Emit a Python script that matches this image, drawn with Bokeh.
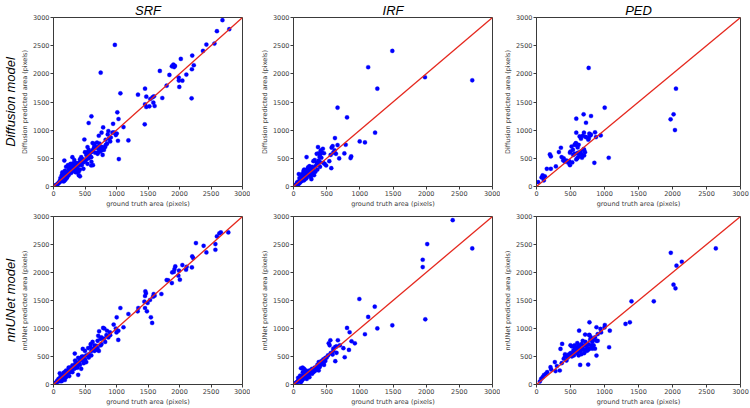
from bokeh.plotting import figure
from bokeh.layouts import column, row
from bokeh.models import Range1d, FixedTicker, Slope, Title
from bokeh.embed import file_html
from bokeh.resources import INLINE

AXIS_MAX = 3000
TICKS = [0, 500, 1000, 1500, 2000, 2500, 3000]
COLUMNS = ["SRF", "IRF", "PED"]
ROW_TITLES = ["Diffusion model", "nnUNet model"]
Y_LABELS = ["Diffusion predicted area (pixels)", "nnUNet predicted area (pixels)"]
X_LABEL = "ground truth area (pixels)"

# ---- Diffusion model ----
srf_diff_gt = [2682,2790,2594,2555,2427,2373,2202,2197,2227,2192, 2021,1987,1990,1997,2046,2109,1879,1903,1928,1915,
               1840,1796,1727,1688,1595,1571,1585,1605,1453,1473, 1453,1473,1448,1522,1536,1341,1062,1013,1032,1111,
               1189,1037,1023,974,749,602,558,935,989,788, 763,861,827,871,719,1004,946,
               490,602,626,647,620,690,730,700,760,780, 800,740,500,540,560,580,650,680,820,850,
               900,780,700,600,520,440,460,420,539,598, 475,400,380,350,330,300,300,280,260,250,
               240,220,200,180,160,150,140,172,200,230, 320,360,400,420,380,350,310,270,290,210,
               190,170,130,120,100,90,80,70,60,50, 40,30,20,110,130,150,180,240,260,330,
               370,410,440,360,340,450,480,520,560,160, 200,220,280,300,420,400,470,500,540,570,
               620,660,640,720,750,830,880,910,960,700, 600,550]
srf_diff_pred = [2953,2792,2757,2537,2520,2407,2324,2081,2152,1565, 2265,1933,1880,1767,1879,1986,2134,2164,2140,2120,
                 1980,1790,1571,2051,1600,1583,1488,1429,1737,1595, 1459,1411,1103,1423,1553,1630,1654,1316,1198,1055,
                 818,486,812,2514,2020,1245,1127,955,913,1049, 955,925,830,984,901,940,1113,
                 834,439,379,758,770,780,760,600,640,560, 650,620,609,700,650,600,720,690,700,760,
                 800,700,700,610,560,520,450,480,403,373, 314,420,400,380,470,520,350,300,250,330,
                 200,260,210,220,180,140,250,461,350,380, 300,250,200,180,320,420,410,400,380,150,
                 120,100,130,90,100,70,60,50,40,30, 20,10,15,150,200,230,280,290,350,350,
                 300,380,420,340,260,380,430,480,500,90, 260,170,240,280,300,260,480,450,550,560,
                 640,600,680,660,700,740,850,870,960,580, 520,620]

irf_diff_gt = [1490,1126,1264,1982,2695,664,807,1230,998,1077, 625,860,870,767,787,689,664,575,590,570,
               620,600,640,560,540,443,369,393,492,410, 430,460,450,470,400,380,420,350,320,300,
               330,300,270,280,250,240,220,197,226,200, 180,170,160,150,140,130,120,110,100,90,
               80,70,60,50,40,30,20,150,180,200, 220,240,260,190,160,130,110,95,85,75,
               65,55,210,230,250,170,140,120,100,300, 330,360,400,280,260,50,90,160,190,140,
               350,370,310,380,400]
irf_diff_pred = [2407,2117,1737,1939,1885,1399,1227,955,800,783, 860,504,534,587,741,498,735,690,717,326,
                 640,600,580,560,450,670,700,522,373,640, 600,590,420,400,430,460,510,580,470,450,
                 360,240,130,350,300,360,340,522,326,300, 250,230,300,270,200,220,180,150,120,90,
                 220,60,80,40,30,20,10,150,180,160, 200,250,200,140,130,100,90,110,60,40,
                 50,30,230,280,220,190,160,130,70,300, 260,300,350,270,170,60,150,110,200,120,
                 420,410,200,590,560]

ped_diff_gt = [767,2051,2016,1972,2036,1003,802,693,585,728, 585,698,777,792,861,944,875,743,762,634,
               654,560,575,590,600,516,536,693,713,669, 614,600,664,492,500,585,700,640,605,851,
               1062,359,329,369,393,467,492,418,443,526, 197,211,211,152,285,74,90,123,100,25,
               108,650,620,700,560,540,600,480,400,720, 800,680,770,580,620]
ped_diff_pred = [2105,1737,1281,1192,1002,1399,1251,1281,1204,1132, 955,955,937,907,961,907,878,871,830,889,
                 848,740,760,745,730,710,650,664,610,510, 522,593,569,599,620,480,650,560,694,421,
                 510,688,611,522,462,421,379,440,460,427, 569,534,314,314,356,160,196,180,150,77,
                 107,620,600,550,580,560,500,450,500,880, 920,900,860,770,740]

# ---- nnUNet model ----
srf_nnunet_gt = [2775,2657,2633,2594,2570,2570,2427,2383,2261,2202, 2217,2197,2114,2104,2046,1992,1982,2006,1933,1920,
                 1910,1884,1879,1796,1820,1713,1590,1605,1580,1458, 1468,1453,1532,1443,1493,1346,1336,1453,1483,1546,
                 1566,1189,1062,1003,955,990,1030,1000,1028,1111, 807,850,896,788,724,744,590,620,650,680,
                 710,700,760,800,840,900,587,550,500,465, 338,392,343,392,450,420,480,520,560,600,
                 640,700,750,400,380,350,320,300,280,260, 250,230,210,200,190,170,160,150,140,130,
                 120,110,100,90,80,70,60,50,40,30, 20,15,100,130,180,220,240,270,300,330,
                 360,380,420,440,460,480,500,520,200,160, 110,250,300,350,430,470,560,600,650,680,
                 720,760,820,870,250,180]
srf_nnunet_pred = [2715,2715,2700,2644,2507,2406,2358,2477,2525,2287, 2257,2091,2103,2050,2133,2032,1943,1871,2109,2060,
                   2010,2002,1812,1865,1860,1616,1616,1586,1568,1663, 1628,1580,1509,1479,1455,1366,1307,1366,1307,1200,
                   1099,1259,1366,1200,1070,1000,960,930,796,1022, 1000,960,930,1010,950,814,720,760,700,690,
                   870,780,840,820,880,880,665,650,600,635, 553,475,428,172,500,420,460,520,540,600,
                   640,650,700,380,350,300,330,280,260,300, 220,240,200,250,180,160,210,130,170,120,
                   100,140,90,70,100,50,70,40,30,20, 10,25,200,60,220,170,300,230,340,280,
                   400,300,350,280,430,380,450,400,130,110, 60,280,220,380,470,500,480,520,600,620,
                   600,720,760,840,150,80]

irf_nnunet_gt = [2400,2695,2016,1948,1948,1987,1490,993,1225,1126, 1264,1077,807,846,875,925,836,772,752,669,
                 630,531,556,545,590,649,630,452,482,393, 113,138,420,440,380,360,400,350,320,300,
                 280,260,240,220,200,180,160,140,120,100, 90,80,70,60,50,40,30,20,150,180,
                 210,250,280,320,360,400,450,500,520,560, 600,100,130,170,190,230,270,300,340,160,
                 140,120,70,110,200,240,380,420,460,480, 600,650,700]
irf_nnunet_pred = [2935,2430,2507,2228,2097,1164,1057,1527,1390,1206, 1001,897,1010,933,772,736,618,487,648,790,
                   671,736,790,700,535,565,416,386,475,309, 290,300,420,400,400,350,340,310,300,260,
                   280,240,250,210,180,200,170,150,130,110, 80,90,60,50,40,30,20,10,100,120,
                   150,200,190,240,280,380,450,480,520,560, 600,160,80,140,250,180,260,220,260,280,
                   220,60,120,40,100,130,250,370,350,420, 640,680,700]

ped_nnunet_gt = [2637,1975,2137,2059,2015,2044,1725,1397,1373,1309, 1005,1078,1068,779,882,941,627,377,353,774,
                 715,882,642,760,441,343,270,137,157,216, 206,69,49,90,110,300,280,370,400,420,
                 460,480,500,520,540,560,580,600,620,640, 660,680,700,720,740,760,780,800,820,840,
                 860,880,900,760,700,650,600,560,520,500, 480,620,660,720,740,680,600,580,540,460,
                 420,860,900,820,790,640,700,600,550,950, 1000,780,800,840]
ped_nnunet_pred = [2430,2352,2192,2121,1782,1717,1485,1485,1111,1081, 1063,962,665,1111,1022,992,962,725,636,885,
                   891,517,350,356,428,250,400,190,220,267, 309,101,53,130,170,330,240,380,460,500,
                   520,540,560,500,600,640,580,620,700,660, 720,640,700,760,680,720,640,700,760,800,
                   840,780,900,620,620,600,560,700,680,700, 520,520,540,620,600,780,740,660,540,480,
                   540,640,780,640,800,600,560,660,520,930, 1020,880,840,700]

PANELS = [
    [(srf_diff_gt, srf_diff_pred), (irf_diff_gt, irf_diff_pred), (ped_diff_gt, ped_diff_pred)],
    [(srf_nnunet_gt, srf_nnunet_pred), (irf_nnunet_gt, irf_nnunet_pred), (ped_nnunet_gt, ped_nnunet_pred)],
]

# ---- layout / style ----
COL_W = [250, 250, 250]
BORDER_L = [45, 43, 35]
BORDER_R = [8, 8, 10]
ROW_H = [210, 198]
BORDER_T = [17, 6]
BORDER_B = [24, 23]

TICK_FONT = "DejaVu Sans"
TITLE_FONT = "Liberation Sans"
GREY = "#3a3a3a"

rows = []
for r in range(2):
    figs = []
    for c in range(3):
        gt, pred = PANELS[r][c]
        p = figure(width=COL_W[c], height=ROW_H[r],
                   x_range=Range1d(0, AXIS_MAX), y_range=Range1d(0, AXIS_MAX),
                   output_backend="svg", toolbar_location=None,
                   min_border_left=BORDER_L[c], min_border_right=BORDER_R[c],
                   min_border_top=BORDER_T[r], min_border_bottom=BORDER_B[r])
        p.grid.visible = False
        p.outline_line_color = GREY
        p.outline_line_width = 1
        p.background_fill_color = "white"
        p.border_fill_color = "white"
        for ax in (p.xaxis[0], p.yaxis[0]):
            ax.ticker = FixedTicker(ticks=TICKS)
            ax.major_label_text_font = TICK_FONT
            ax.major_label_text_font_size = "6.5px"
            ax.major_label_text_color = GREY
            ax.axis_label_text_font = TICK_FONT
            ax.axis_label_text_font_size = "6.5px"
            ax.axis_label_text_font_style = "normal"
            ax.axis_label_text_color = GREY
            ax.axis_line_color = GREY
            ax.major_tick_line_color = GREY
            ax.major_tick_out = 3
            ax.major_tick_in = 0
            ax.minor_tick_line_color = None
            ax.major_label_standoff = 1
            ax.axis_label_standoff = 1
        p.xaxis[0].axis_label = X_LABEL
        p.yaxis[0].axis_label = Y_LABELS[r]

        p.add_layout(Slope(gradient=1, y_intercept=0, line_color="#e5281e", line_width=1.3))
        p.scatter(gt, pred, size=4.2, fill_color="#0000ff", line_color="#0000ff", line_width=0.3)

        if r == 0:
            p.title.text = COLUMNS[c]
            p.title.align = "center"
            p.title.text_font = TITLE_FONT
            p.title.text_font_style = "italic"
            p.title.text_font_size = "13px"
            p.title.text_color = "black"
            p.title.standoff = 0
        if c == 0:
            p.add_layout(Title(text=ROW_TITLES[r], align="center", text_font=TITLE_FONT,
                               text_font_style="italic", text_font_size="13px",
                               text_color="black", standoff=0), "left")
        figs.append(p)
    rows.append(row(*figs))

layout = column(*rows)
open("out.html", "w").write(file_html(layout, INLINE))
